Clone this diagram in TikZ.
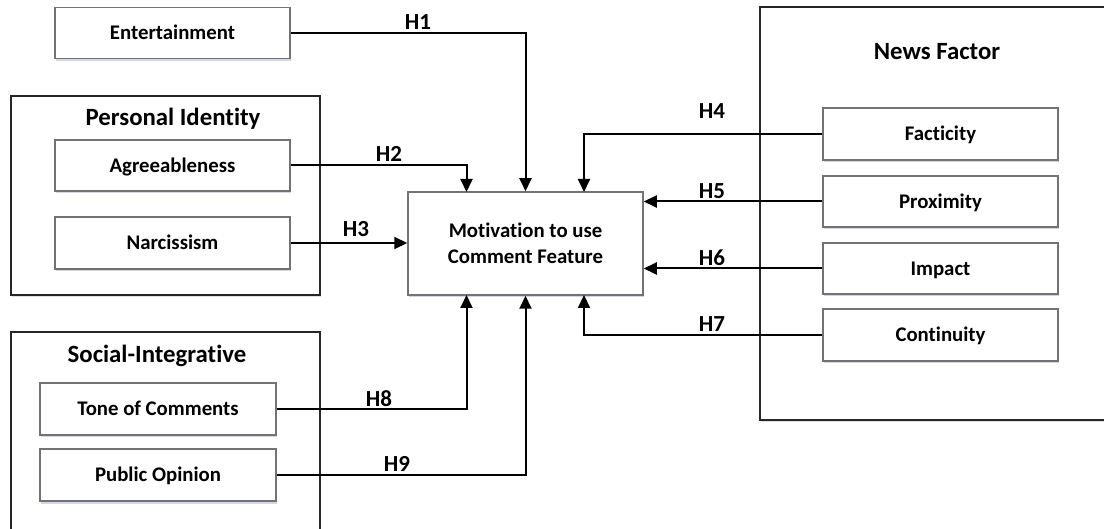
\documentclass[tikz,border=0pt]{standalone}
\usepackage{fontspec}
\setmainfont{Carlito}[Ligatures={NoCommon}]
\usetikzlibrary{arrows.meta,shadows,calc}
\begin{document}
\begin{tikzpicture}[x=1pt,y=-1pt,
  outerbox/.style={draw=black!85,line width=1.6pt,fill=white,inner sep=0pt,
    drop shadow={shadow xshift=1pt,shadow yshift=-2pt,fill=blue!25!gray,opacity=0.2}},
  plainbox/.style={draw=black!55,line width=1.5pt,fill=white,inner sep=0pt,
    minimum width=235pt,minimum height=51pt,
    drop shadow={shadow xshift=1pt,shadow yshift=-2.5pt,fill=blue!30!gray,opacity=0.25}},
  itembox/.style={plainbox,font=\fontsize{20.8}{24}\selectfont\bfseries,text height=13.4pt,text depth=0pt},
  titletext/.style={font=\fontsize{24.8}{28}\selectfont\bfseries,inner sep=0pt,text height=16pt,text depth=0pt},
  hlabel/.style={font=\fontsize{23}{26}\selectfont\bfseries,inner sep=0pt,text height=14.8pt,text depth=0pt},
  arr/.style={draw=black,line width=2pt,-{Triangle[length=13pt,width=12pt]}},
]
\useasboundingbox (0,0) rectangle (1104,529);
\clip (0,0) rectangle (1104,529);

% outer group boxes
\node[outerbox,minimum width=309pt,minimum height=199pt] (pid) at (165.5,195.5) {};
\node[titletext] (pidt) at (173,117.5) {Personal Identity};
\node[outerbox,minimum width=309pt,minimum height=220pt] (soc) at (165.5,442) {};
\node[titletext] (soct) at (157,355) {Social-Integrative};
\node[outerbox,minimum width=360pt,minimum height=413pt] (news) at (940,213.5) {};
\node[titletext] (newst) at (937,52) {News Factor};

% connector corner points
\coordinate (mnL) at (466.5,192);
\coordinate (mnR) at (584,192);
\coordinate (msL) at (466.5,295);
\coordinate (msR) at (584,295);

% items
\node[itembox] (ent) at (172.5,33) {Entertainment};
\node[itembox] (agr) at (172.5,165.5) {Agreeableness};
\node[itembox,minimum height=52pt] (nar) at (172.5,243) {Narcissism};
\node[itembox,minimum width=236pt,minimum height=52pt] (tone) at (158,409) {Tone of Comments};
\node[itembox,minimum width=236pt,minimum height=52pt] (pub) at (158,475) {Public Opinion};
\node[itembox,minimum height=52pt] (fac) at (940.5,134) {Facticity};
\node[itembox] (prox) at (940.5,201.5) {Proximity};
\node[itembox] (imp) at (940.5,268.5) {Impact};
\node[itembox,minimum height=52pt] (cont) at (940.5,335) {Continuity};
\node[plainbox,minimum height=103pt,align=center,
  font=\fontsize{20.8}{26}\selectfont\bfseries] (main) at (525.5,243.5)
  {Motivation to use\\Comment Feature};

\draw[arr] (ent.east) -| (main.north);
\draw[arr] (agr.east) -| (mnL);
\draw[arr] (nar.east) -- (main.west |- nar.east);
\draw[arr] (fac.west) -| (mnR);
\draw[arr] (prox.west) -- (main.east |- prox.west);
\draw[arr] (imp.west) -- (main.east |- imp.west);
\draw[arr] (cont.west) -| (msR);
\draw[arr] (tone.east) -| (msL);
\draw[arr] (pub.east) -| (main.south);

% labels
\node[hlabel] (h1) at (418,22) {H1};
\node[hlabel] (h2) at (389,154) {H2};
\node[hlabel] (h3) at (356,229) {H3};
\node[hlabel] (h4) at (712,111) {H4};
\node[hlabel] (h5) at (712,191) {H5};
\node[hlabel] (h6) at (712,258) {H6};
\node[hlabel] (h7) at (712,324) {H7};
\node[hlabel] (h8) at (379,399) {H8};
\node[hlabel] (h9) at (397,464) {H9};
\end{tikzpicture}
\end{document}
